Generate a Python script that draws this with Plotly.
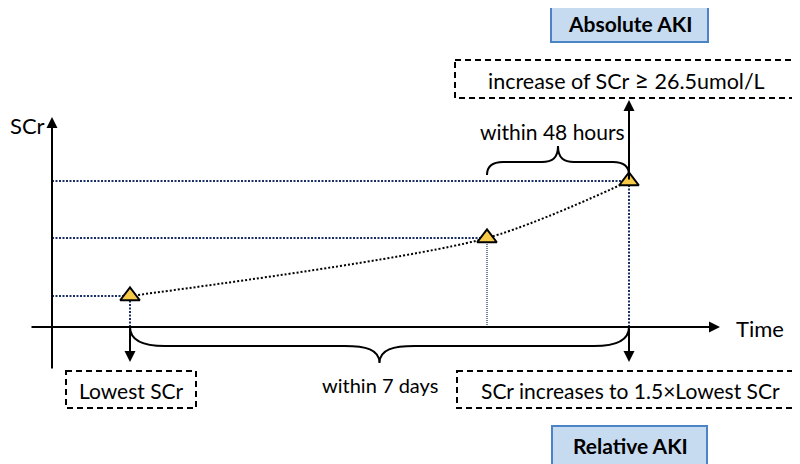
import plotly.graph_objects as go

# ---- data (conceptual units: time on x, SCr on y) ----
times = [7.8, 43.5, 57.7]
scr = [3.1, 8.9, 14.6]
labels_axis = ["SCr", "Time"]

OFF = 8  # page body margin
W, H = 800 - OFF, 464 - OFF
# screen-pixel -> data helpers for layout placement (axis origin at pixel 52, 327; 10 px per unit)
X = lambda p: (p - 52) / 10.0
Y = lambda p: (327 - p) / 10.0

FONT = "Lato"
DOT = "2px,1.5px"
NAVY = "#1a2f66"

fig = go.Figure()

# horizontal dotted guides from SCr axis to each point
for t, v in zip(times, scr):
    fig.add_trace(go.Scatter(x=[0, t], y=[v, v], mode="lines",
                             line=dict(color=NAVY, width=2, dash=DOT), hoverinfo="skip"))
# vertical dotted drops
for i, (t, v) in enumerate(zip(times, scr)):
    fig.add_trace(go.Scatter(x=[t, t], y=[0, v], mode="lines",
                             line=dict(color=NAVY, width=1.2 if i == 1 else 2, dash="1px,1px" if i == 1 else DOT),
                             hoverinfo="skip"))
# dotted curve through the points
fig.add_trace(go.Scatter(x=times, y=scr, mode="lines",
                         line=dict(color="black", width=2, dash="2px,2px", shape="spline", smoothing=0.8),
                         hoverinfo="skip"))
# triangle markers
fig.add_trace(go.Scatter(x=times, y=scr, mode="markers",
                         marker=dict(symbol="triangle-up", size=17, color="#f7c948",
                                     line=dict(color="black", width=2)),
                         hoverinfo="skip"))

ann = []
def arrow(x, y, ax, ay):
    ann.append(dict(x=x, y=y, ax=ax, ay=ay, xref="x", yref="y", axref="x", ayref="y",
                    showarrow=True, arrowhead=2, arrowsize=1.1, arrowwidth=2, arrowcolor="black",
                    text="", standoff=0, startstandoff=0))

# axes with arrows
arrow(0, Y(117), 0, Y(370))
arrow(X(720), 0, X(30), 0)
# absolute AKI up arrow
arrow(times[2], Y(100), times[2], scr[2])
# down arrows to boxes
arrow(times[0], Y(362), times[0], 0)
arrow(times[2], Y(362), times[2], 0)

def text(px, py, s, size=19, bold=False):
    ann.append(dict(x=X(px), y=Y(py), xref="x", yref="y", text=("<b>%s</b>" % s) if bold else s,
                    showarrow=False, font=dict(family=FONT, size=size, color="black"),
                    xanchor="center", yanchor="middle"))

text(27, 125, labels_axis[0], 22)
text(760, 328, labels_axis[1], 22)
text(552, 131, "within 48 hours", 21)
text(380, 385, "within 7 days", 20)
text(131, 390, "Lowest SCr", 21)
text(626, 79, "increase of SCr <span style='font-size:25px'>\u2265</span> 26.5umol/L", 21.5)
text(630, 390, "SCr increases to 1.5\u00d7Lowest SCr", 21)
text(630, 23, "Absolute AKI", 21, True)
text(630, 445, "Relative AKI", 21, True)

shapes = []
def box(x0, y0, x1, y1, dashed=True):
    if dashed:
        shapes.append(dict(type="rect", xref="x", yref="y", x0=X(x0), x1=X(x1), y0=Y(y0), y1=Y(y1),
                           line=dict(color="black", width=2, dash="6px,4px"), fillcolor="rgba(0,0,0,0)"))
    else:
        shapes.append(dict(type="rect", xref="x", yref="y", x0=X(x0), x1=X(x1), y0=Y(y0), y1=Y(y1),
                           line=dict(color="#4a84c4", width=2), fillcolor="#c6dbf0", layer="below"))

box(551, 4, 708, 42, dashed=False)
box(552, 426, 707, 468, dashed=False)
box(455, 60, 796, 98)
box(66, 371, 196, 408)
box(457, 371, 796, 408)

# braces
def brace_down(a, b, y0, depth_h, depth_t, r=3.5):
    m = (a + b) / 2
    yh = y0 - depth_h
    yt = y0 - depth_t
    return (f"M {a},{y0} C {a},{y0 - depth_h*0.7} {a + r*0.4},{yh} {a + r},{yh} "
            f"L {m - r},{yh} C {m - r*0.4},{yh} {m},{yh - (depth_t-depth_h)*0.2} {m},{yt} "
            f"C {m},{yh - (depth_t-depth_h)*0.2} {m + r*0.4},{yh} {m + r},{yh} "
            f"L {b - r},{yh} C {b - r*0.4},{yh} {b},{y0 - depth_h*0.7} {b},{y0}")

shapes.append(dict(type="path", xref="x", yref="y",
                   path=brace_down(times[0], times[2], 0, 1.9, 3.6, r=3.5),
                   line=dict(color="black", width=2)))
shapes.append(dict(type="path", xref="x", yref="y",
                   path=brace_down(times[1], times[2], Y(175), -1.3, -2.9, r=1.6),
                   line=dict(color="black", width=2)))

fig.update_layout(
    width=W, height=H, margin=dict(l=0, r=0, t=0, b=0),
    paper_bgcolor="white", plot_bgcolor="white", showlegend=False,
    xaxis=dict(range=[X(OFF), X(800)], visible=False, fixedrange=True),
    yaxis=dict(range=[Y(464), Y(OFF)], visible=False, fixedrange=True),
    annotations=ann, shapes=shapes,
)
fig.write_html("out.html")
